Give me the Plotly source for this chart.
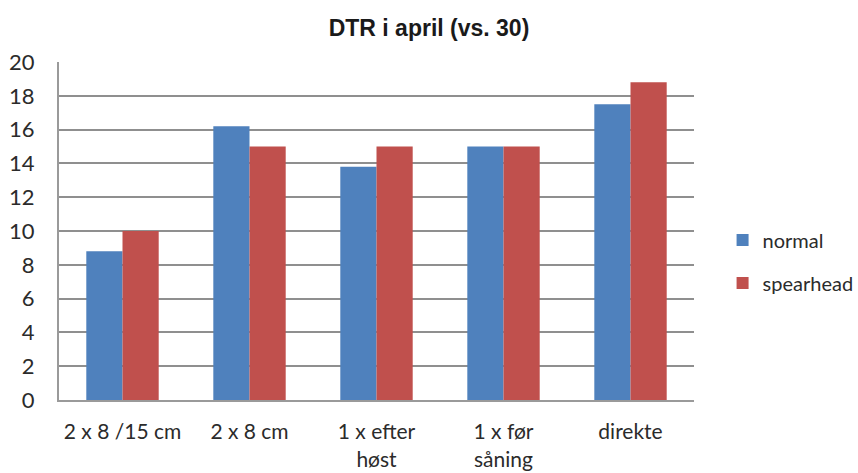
import plotly.graph_objects as go

categories = ["2 x 8 /15 cm", "2 x 8 cm", "1 x efter<br>høst", "1 x før<br>såning", "direkte"]
normal = [8.8, 16.2, 13.8, 15.0, 17.5]
spearhead = [10.0, 15.0, 15.0, 15.0, 18.8]
y_ticks = list(range(0, 21, 2))

fig = go.Figure()
fig.add_trace(go.Bar(name="normal", x=categories, y=normal,
                     marker=dict(color="#4F81BD", line=dict(width=0)), legendgroup="a"))
fig.add_trace(go.Bar(name="spearhead", x=categories, y=spearhead,
                     marker=dict(color="#C0504D", line=dict(width=0)), legendgroup="b"))

fig.update_layout(
    width=858, height=473,
    margin=dict(l=59, r=164, t=62, b=73, autoexpand=False),
    paper_bgcolor="white", plot_bgcolor="white",
    barmode="group", bargap=0.43, bargroupgap=0,
    font=dict(family="Lato, Open Sans, sans-serif", size=20, color="#2b2b2b"),
    title=dict(text="<b>DTR i april (vs. 30)</b>", x=0.5, xanchor="center",
               y=0.94, yanchor="middle",
               font=dict(family="Liberation Sans, Arial, sans-serif", size=23, color="#1a1a1a")),
    legend=dict(x=1.045, xanchor="left", y=0.41, yanchor="middle",
                font=dict(size=20), tracegroupgap=14, traceorder="grouped",
                itemwidth=30),
    xaxis=dict(showline=True, linecolor="#9a9a9a", linewidth=2, ticks="",
               ticklabelstandoff=12, tickfont=dict(size=21), automargin=False),
    yaxis=dict(range=[0, 20], tickvals=y_ticks, showgrid=True, gridcolor="#8f8f8f",
               gridwidth=2, showline=True, linecolor="#9a9a9a", linewidth=2,
               ticks="", ticklabelstandoff=18, zeroline=False, tickfont=dict(size=22),
               automargin=False),
)

fig.write_html("out.html")
